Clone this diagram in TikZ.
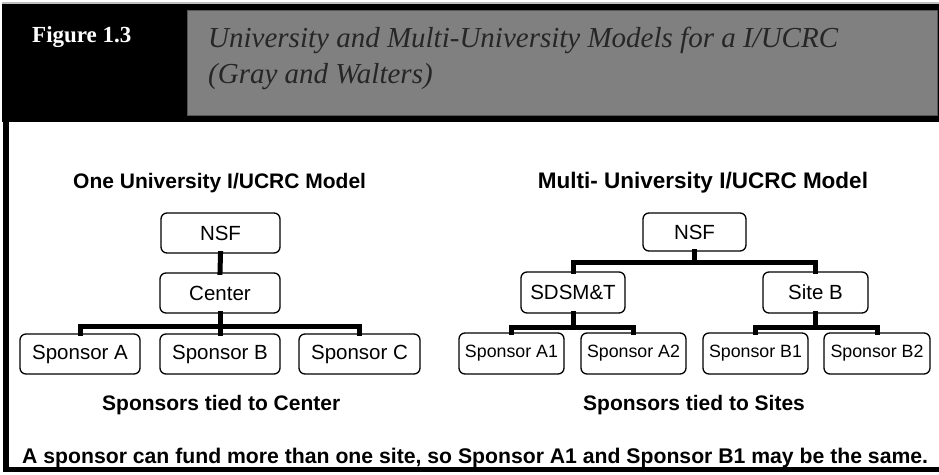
\documentclass[tikz,border=0pt]{standalone}
\usepackage{fontspec}
\setmainfont{Liberation Serif}
\setsansfont{Liberation Sans}
\definecolor{bandgray}{RGB}{128,128,128}
\definecolor{rimgray}{RGB}{85,85,85}
\tikzset{
  box/.style={draw, fill=white, rounded corners=6pt, line width=1.3pt, inner sep=0pt, font=\sffamily\fontsize{20.5}{24}\selectfont},
  smallbox/.style={box, font=\sffamily\fontsize{17.8}{21}\selectfont},
  bar/.style={line width=5pt, line cap=rect, line join=miter},
  heading/.style={anchor=base west, inner sep=0pt, font=\sffamily\bfseries\fontsize{21}{25}\selectfont}
}
\begin{document}
\begin{tikzpicture}[x=1pt, y=-1pt]
    \useasboundingbox (0,0) rectangle (939,474);
    % frame and title band
    \fill[black!25] (2,2) rectangle (939,4);
    \fill[black] (2,4) rectangle (939,122);
    \fill[black] (3,122) rectangle (9,472);
    \fill[black] (3,467) rectangle (939,472);
    \filldraw[fill=bandgray, draw=rimgray, line width=1pt] (187,10) rectangle (937,115);
    \node[anchor=base west, inner sep=0pt, text=white, font=\bfseries\fontsize{23}{27}\selectfont] (figno) at (32,42) {Figure 1.3};
    \node[anchor=base west, inner sep=0pt, text=black!85, font=\itshape\fontsize{29}{34}\selectfont] (title1) at (208,47) {University and Multi-University Models for a I/UCRC};
    \node[anchor=base west, inner sep=0pt, text=black!85, font=\itshape\fontsize{29}{34}\selectfont] (title2) at (208,83) {(Gray and Walters)};

    % one university model
    \node[heading] (headL) at (73,188) {One University I/UCRC Model};
    \node[box, minimum width=119pt, minimum height=40pt] (nsfL) at (220.5,233) {NSF};
    \node[box, minimum width=120pt, minimum height=40pt] (center) at (220,293) {Center};
    \node[box, minimum width=120pt, minimum height=40pt] (spA) at (80,354) {Sponsor A};
    \node[box, minimum width=120pt, minimum height=40pt] (spB) at (220,354) {Sponsor B};
    \node[box, minimum width=121pt, minimum height=40pt] (spC) at (359.5,354) {Sponsor C};
    \coordinate (hubL) at (220,326);
    \draw[bar] (nsfL.south) -- (center.north);
    \draw[bar] (spA.north) |- (hubL) -| (spC.north);
    \draw[bar] (center.south) -- (spB.north);
    \node[heading] (tieL) at (102,410) {Sponsors tied to Center};

    % multi university model
    \node[heading, anchor=base, font=\sffamily\bfseries\fontsize{22.5}{26}\selectfont] (headR) at (703,188) {Multi- University I/UCRC Model};
    \node[box, minimum width=103pt, minimum height=38pt] (nsfR) at (694.5,232) {NSF};
    \node[box, minimum width=104pt, minimum height=41pt] (sdsmt) at (573,292.5) {SDSM\&T};
    \node[box, minimum width=105pt, minimum height=41pt] (siteB) at (815.5,292.5) {Site B};
    \node[smallbox, minimum width=105pt, minimum height=41pt] (spA1) at (511.5,353.5) {Sponsor A1};
    \node[smallbox, minimum width=105pt, minimum height=41pt] (spA2) at (633.5,353.5) {Sponsor A2};
    \node[smallbox, minimum width=105pt, minimum height=41pt] (spB1) at (755.5,353.5) {Sponsor B1};
    \node[smallbox, minimum width=106pt, minimum height=41pt] (spB2) at (877,353.5) {Sponsor B2};
    \coordinate (hubR) at (694.5,262);
    \coordinate (hubA) at (573,327);
    \coordinate (hubB) at (815.5,327);
    \draw[bar] (nsfR.south) -- (hubR);
    \draw[bar] (sdsmt.north) |- (hubR) -| (siteB.north);
    \draw[bar] (sdsmt.south) -- (hubA);
    \draw[bar] (spA1.north) |- (hubA) -| (spA2.north);
    \draw[bar] (siteB.south) -- (hubB);
    \draw[bar] (spB1.north) |- (hubB) -| (spB2.north);
    \node[heading] (tieR) at (583,410) {Sponsors tied to Sites};

    \node[heading, font=\sffamily\bfseries\fontsize{21.2}{25}\selectfont] (note) at (22,463) {A sponsor can fund more than one site, so Sponsor A1 and Sponsor B1 may be the same.};
\end{tikzpicture}
\end{document}
